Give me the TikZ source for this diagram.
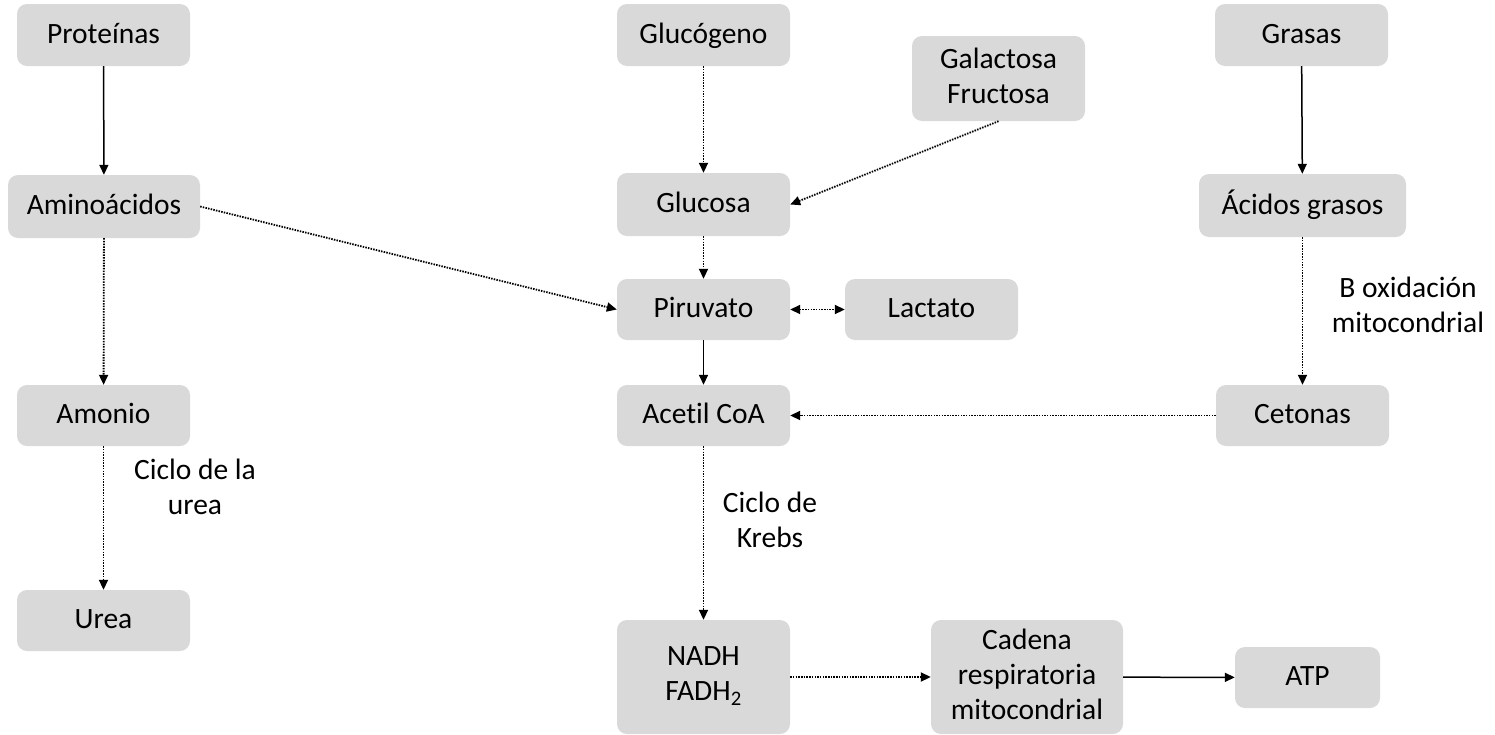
\documentclass[tikz,border=0pt]{standalone}
\usepackage{fontspec}
\setmainfont{Carlito}[Ligatures=NoCommon]
\usetikzlibrary{arrows.meta}
\definecolor{boxgray}{HTML}{D9D9D9}
\newcommand{\boxstrut}{\rule[-0.22em]{0pt}{1.0em}}
\tikzset{
  txt/.style={align=center, inner sep=0pt, font=\fontsize{29.5}{35}\selectfont,
    execute at begin node=\boxstrut, execute at end node=\boxstrut},
  box/.style={txt, fill=boxgray, rounded corners=10pt},
  lbl/.style={txt},
  solidarr/.style={-{Triangle[length=10pt,width=9pt]}, line width=1.5pt},
  dotarr/.style={-{Triangle[length=10pt,width=9pt]}, line width=1.8pt, dash pattern=on 1.5pt off 1.2pt},
}
\begin{document}
\begin{tikzpicture}[x=1pt,y=-1pt]
\useasboundingbox (0,0) rectangle (1495,734);
\node[box, minimum width=173pt, minimum height=62pt] (prot) at (103.5,35) {Proteínas};
\node[box, minimum width=192pt, minimum height=63pt] (ami) at (104,206.5) {Aminoácidos};
\node[box, minimum width=173pt, minimum height=61pt] (amo) at (103.5,415.5) {Amonio};
\node[box, minimum width=173pt, minimum height=61pt] (urea) at (103.5,620.5) {Urea};
\node[box, minimum width=173pt, minimum height=62pt] (gluc) at (703.5,35) {Glucógeno};
\node[box, minimum width=173pt, minimum height=85pt] (gal) at (998.5,78.5) {Galactosa\\Fructosa};
\node[box, minimum width=173pt, minimum height=63pt] (glu) at (703.5,204.5) {Glucosa};
\node[box, minimum width=173pt, minimum height=61pt] (piru) at (703.5,309.5) {Piruvato};
\node[box, minimum width=173pt, minimum height=61pt] (lac) at (931.5,309.5) {Lactato};
\node[box, minimum width=173pt, minimum height=61pt] (acet) at (703.5,415.5) {Acetil CoA};
\node[box, minimum width=173pt, minimum height=114pt] (nadh) at (703.5,677) {NADH\\FADH\textsubscript{2}};
\node[box, minimum width=192pt, minimum height=114pt] (cad) at (1027,677) {Cadena\\respiratoria\\mitocondrial};
\node[box, minimum width=145pt, minimum height=61pt] (atp) at (1307.5,677.5) {ATP};
\node[box, minimum width=173pt, minimum height=62pt] (gras) at (1301.5,35) {Grasas};
\node[box, minimum width=207pt, minimum height=63pt] (acid) at (1302.5,205.5) {Ácidos grasos};
\node[box, minimum width=173pt, minimum height=61pt] (ceto) at (1302.5,415.5) {Cetonas};
\node[lbl] (l1) at (195,490) {Ciclo de la\\urea};
\node[lbl] (l2) at (770,523) {Ciclo de\\Krebs};
\node[lbl] (l3) at (1408,308) {B oxidación\\mitocondrial};
\draw[solidarr] (prot) -- (ami);
\draw[dotarr] (ami) -- (amo);
\draw[dotarr] (amo) -- (urea);
\draw[dotarr] (ami.east) -- (piru.west);
\draw[dotarr] (gluc) -- (glu);
\draw[dotarr] (gal.south) -- (glu.east);
\draw[dotarr] (glu) -- (piru);
\draw[dotarr, {Triangle[length=10pt,width=9pt]}-{Triangle[length=10pt,width=9pt]}] (piru) -- (lac);
\draw[solidarr] (piru) -- (acet);
\draw[solidarr] (gras) -- (acid);
\draw[dotarr] (acid) -- (ceto);
\draw[dotarr] (ceto) -- (acet);
\draw[dotarr] (acet) -- (nadh);
\draw[dotarr] (nadh) -- (cad);
\draw[solidarr] (cad) -- (atp);
\end{tikzpicture}
\end{document}
